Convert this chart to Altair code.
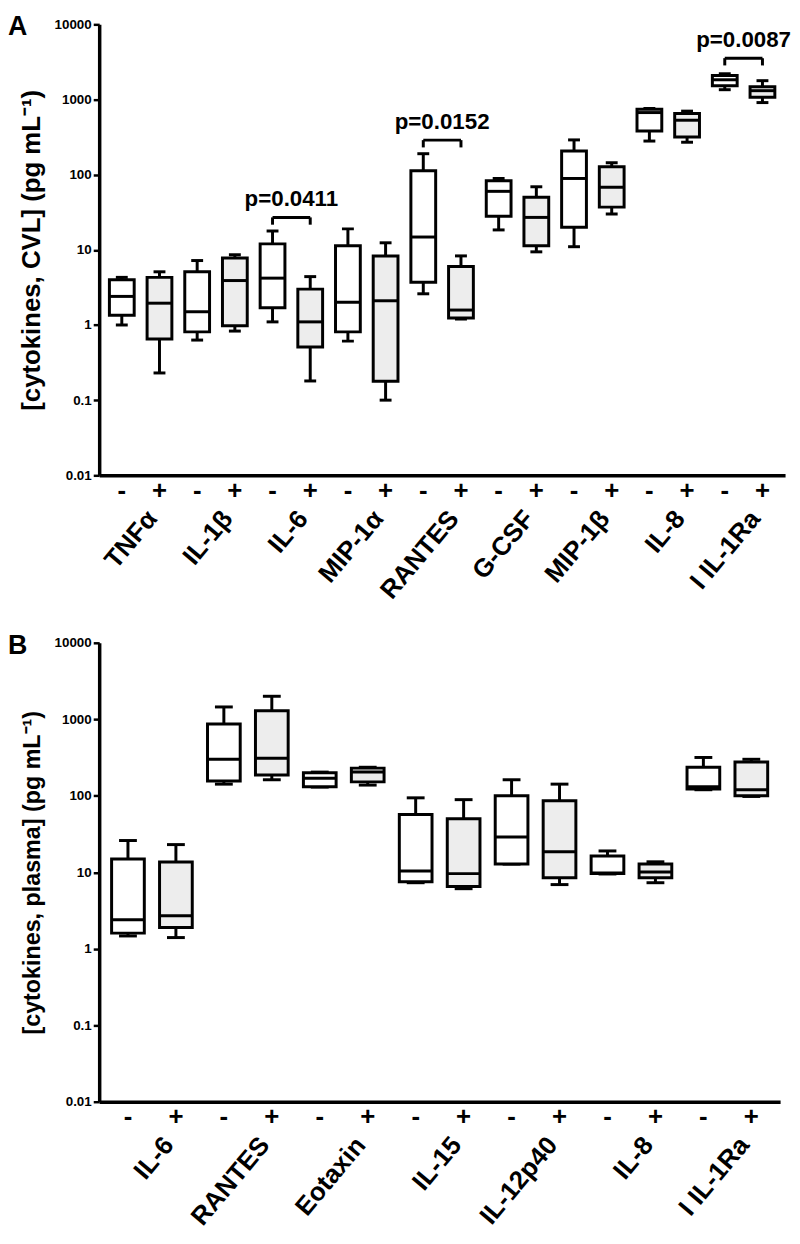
import altair as alt
import pandas as pd

# ---------------- Panel A data (CVL) ----------------
a_groups = ["TNFα", "IL-1β", "IL-6", "MIP-1α", "RANTES", "G-CSF", "MIP-1β", "IL-8", "I IL-1Ra"]
a_min = [1.0, 0.23, 0.63, 0.83, 1.1, 0.18, 0.61, 0.10, 2.6, 1.2, 18.4, 9.4, 11, 30, 280, 270, 1350, 910]
a_q1 = [1.35, 0.65, 0.81, 0.98, 1.7, 0.51, 0.81, 0.178, 3.7, 1.24, 28, 11.3, 20, 37, 380, 316, 1520, 1070]
a_med = [2.4, 1.95, 1.5, 3.9, 4.2, 1.1, 2.0, 2.1, 14.8, 1.58, 60, 27, 89, 68, 670, 530, 1830, 1310]
a_q3 = [4.0, 4.3, 5.1, 7.8, 12, 3.0, 11.3, 8.3, 113, 6.0, 83, 50, 207, 127, 740, 650, 2090, 1480]
a_max = [4.3, 5.1, 7.2, 8.6, 17.8, 4.4, 19, 12.4, 190, 8.3, 89, 69, 290, 144, 760, 700, 2200, 1780]
a_brackets = ["IL-6", "RANTES", "I IL-1Ra"]
a_bracket_y = [27, 288, 3550]
a_pvalues = ["p=0.0411", "p=0.0152", "p=0.0087"]

# ---------------- Panel B data (plasma) ----------------
b_groups = ["IL-6", "RANTES", "Eotaxin", "IL-15", "IL-12p40", "IL-8", "I IL-1Ra"]
b_min = [1.47, 1.4, 142, 162, 130, 138, 7.3, 6.1, 12.8, 6.9, 9.5, 7.3, 120, 98]
b_q1 = [1.6, 1.9, 156, 187, 131, 152, 7.5, 6.5, 12.8, 8.5, 9.6, 8.5, 123, 100]
b_med = [2.4, 2.7, 300, 310, 170, 204, 10.4, 9.6, 29, 18.5, 9.8, 10.1, 131, 120]
b_q3 = [14.9, 13.6, 870, 1290, 200, 230, 57, 50, 100, 86, 16.3, 12.8, 236, 276]
b_max = [26, 23, 1450, 2000, 204, 236, 94, 89, 162, 142, 19, 13.7, 317, 300]

signs = ["-", "+"]
y_ticks = [0.01, 0.1, 1, 10, 100, 1000, 10000]
FONT = "Liberation Sans"


def panel(groups, mins, q1s, meds, q3s, maxs, width, height, box, cap, ytitle,
          title_size, letter, lab_y, brackets=None, bracket_y=None, pvalues=None):
    keys = [f"{g}|{s}" for g in groups for s in signs]
    df = pd.DataFrame({
        "key": keys,
        "sign": [s for g in groups for s in signs],
        "mn": mins, "q1": q1s, "med": meds, "q3": q3s, "mx": maxs,
    })
    xsc = alt.Scale(domain=keys, paddingInner=0, paddingOuter=0.1)
    xax = alt.Axis(title=None, labelExpr="split(datum.label, '|')[1]", labelAngle=0,
                   ticks=False, domainWidth=3.5, domainColor="black",
                   labelFontSize=26, labelFontWeight="bold", labelPadding=2,
                   labelColor="black", labelFont=FONT)
    ysc = alt.Scale(type="log", domain=[0.01, 10000])
    yax = alt.Axis(values=y_ticks, title=ytitle, grid=False,
                   labelExpr="datum.value >= 1 ? format(datum.value, 'd') : (datum.value > 0.05 ? '0.1' : '0.01')",
                   labelFontSize=13.5, labelFontWeight="bold", labelColor="black", labelFont=FONT,
                   tickSize=6, tickWidth=2.5, tickColor="black", domainWidth=3.5, domainColor="black",
                   titleFontSize=title_size, titleFontWeight="bold", titleColor="black", titleFont=FONT,
                   titlePadding=10)

    def X(field):
        return alt.X(f"{field}:N", scale=xsc, axis=xax)

    def Y(field):
        return alt.Y(f"{field}:Q", scale=ysc, axis=yax)

    base = alt.Chart(df)
    whisk = base.mark_rule(strokeWidth=3, color="black").encode(x=X("key"), y=Y("mn"), y2="mx:Q")
    cap_lo = base.mark_tick(size=cap, thickness=3, color="black", opacity=1).encode(x=X("key"), y=Y("mn"))
    cap_hi = base.mark_tick(size=cap, thickness=3, color="black", opacity=1).encode(x=X("key"), y=Y("mx"))
    boxes = base.mark_bar(size=box, stroke="black", strokeWidth=3, opacity=1).encode(
        x=X("key"), y=Y("q1"), y2="q3:Q",
        fill=alt.Fill("sign:N", scale=alt.Scale(domain=["-", "+"], range=["white", "#ededed"]),
                      legend=None))
    med = base.mark_tick(size=box, thickness=3, color="black", opacity=1).encode(x=X("key"), y=Y("med"))

    lab_df = pd.DataFrame({"key": [f"{g}|+" for g in groups], "label": groups})
    labels = alt.Chart(lab_df).mark_text(
        angle=310, align="right", baseline="middle", fontSize=26,
        fontWeight="bold", font=FONT, color="black", dx=-11).encode(
        x=X("key"), y=alt.value(height + lab_y), text="label:N")

    let_df = pd.DataFrame({"t": [letter]})
    letter_mark = alt.Chart(let_df).mark_text(
        fontSize=27, fontWeight="bold", font=FONT, align="left", baseline="top",
        color="black").encode(x=alt.value(-92), y=alt.value(-10), text="t:N")

    layers = [whisk, cap_lo, cap_hi, boxes, med, labels, letter_mark]

    if brackets:
        step = width / (len(keys) + 0.2)
        br_df = pd.DataFrame({
            "km": [f"{g}|-" for g in brackets],
            "kp": [f"{g}|+" for g in brackets],
            "yv": bracket_y,
            "yl": [v / 1.25 for v in bracket_y],
            "p": pvalues,
        })
        bb = alt.Chart(br_df)
        horiz = bb.mark_rule(strokeWidth=3, color="black").encode(x=X("km"), x2="kp:N", y=Y("yv"))
        leg1 = bb.mark_rule(strokeWidth=3, color="black").encode(x=X("km"), y=Y("yv"), y2="yl:Q")
        leg2 = bb.mark_rule(strokeWidth=3, color="black").encode(x=X("kp"), y=Y("yv"), y2="yl:Q")
        ptxt = bb.mark_text(fontSize=22.5, fontWeight="bold", font=FONT, baseline="bottom",
                            dx=step / 2, dy=-6, color="black").encode(
            x=X("km"), y=Y("yv"), text="p:N")
        layers += [horiz, leg1, leg2, ptxt]

    return alt.layer(*layers).properties(width=width, height=height)


panel_a = panel(a_groups, a_min, a_q1, a_med, a_q3, a_max, 692, 455, 25, 12,
                "[cytokines, CVL] (pg mL⁻¹)", 26, "A", 31, a_brackets, a_bracket_y, a_pvalues)
panel_b = panel(b_groups, b_min, b_q1, b_med, b_q3, b_max, 687, 463, 33, 18,
                "[cytokines, plasma] (pg mL⁻¹)", 23.5, "B", 31)

chart = alt.vconcat(panel_a, panel_b, spacing=28).properties(padding=0).configure_view(
    stroke=None).configure_concat(spacing=28)

chart.save("out.html", embed_options={"renderer": "svg", "actions": False})
